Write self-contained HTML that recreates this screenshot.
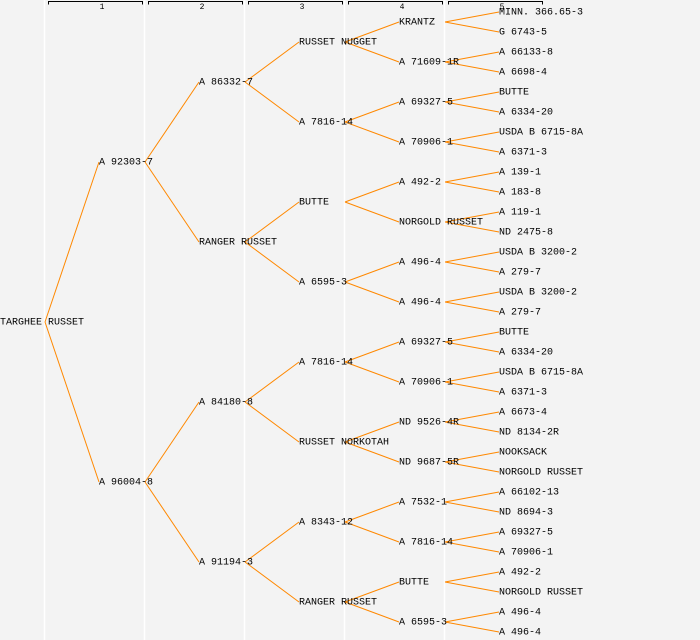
<!DOCTYPE html>
<html><head><meta charset="utf-8"><style>
html,body{margin:0;padding:0;background:#f3f3f3}
svg{display:block}
text{font-family:"Liberation Mono","DejaVu Sans Mono",monospace;font-size:10px;fill:#000;dominant-baseline:middle}
.h{font-size:8px;text-anchor:middle}
</style></head><body>
<svg width="700" height="640" xmlns="http://www.w3.org/2000/svg">
<rect width="700" height="640" fill="#f3f3f3"/>
<g stroke="#fff" stroke-width="1.5">
<line x1="44.5" y1="0" x2="44.5" y2="640"/><line x1="144.5" y1="0" x2="144.5" y2="640"/>
<line x1="244.5" y1="0" x2="244.5" y2="640"/><line x1="344.5" y1="0" x2="344.5" y2="640"/>
<line x1="444.5" y1="0" x2="444.5" y2="640"/>
</g>
<g stroke="#000" stroke-width="1" fill="none">
<path d="M48.5 4.5V1.5H142.5V4.5"/><path d="M148.5 4.5V1.5H242.5V4.5"/><path d="M248.5 4.5V1.5H342.5V4.5"/>
<path d="M348.5 4.5V1.5H442.5V4.5"/><path d="M448.5 4.5V1.5H542.5V4.5"/>
</g>
<text class="h" x="102" y="7">1</text><text class="h" x="202" y="7">2</text><text class="h" x="302" y="7">3</text><text class="h" x="402" y="7">4</text><text class="h" x="502" y="7">5</text>
<g stroke="#ff8800" stroke-width="1">
<line x1="45" y1="322" x2="99" y2="162"/><line x1="45" y1="322" x2="99" y2="482"/>
<line x1="145" y1="162" x2="199" y2="82"/><line x1="145" y1="162" x2="199" y2="242"/>
<line x1="145" y1="482" x2="199" y2="402"/><line x1="145" y1="482" x2="199" y2="562"/>
<line x1="245" y1="82" x2="299" y2="42"/><line x1="245" y1="82" x2="299" y2="122"/>
<line x1="245" y1="242" x2="299" y2="202"/><line x1="245" y1="242" x2="299" y2="282"/>
<line x1="245" y1="402" x2="299" y2="362"/><line x1="245" y1="402" x2="299" y2="442"/>
<line x1="245" y1="562" x2="299" y2="522"/><line x1="245" y1="562" x2="299" y2="602"/>
<line x1="345" y1="42" x2="399" y2="22"/><line x1="345" y1="42" x2="399" y2="62"/>
<line x1="345" y1="122" x2="399" y2="102"/><line x1="345" y1="122" x2="399" y2="142"/>
<line x1="345" y1="202" x2="399" y2="182"/><line x1="345" y1="202" x2="399" y2="222"/>
<line x1="345" y1="282" x2="399" y2="262"/><line x1="345" y1="282" x2="399" y2="302"/>
<line x1="345" y1="362" x2="399" y2="342"/><line x1="345" y1="362" x2="399" y2="382"/>
<line x1="345" y1="442" x2="399" y2="422"/><line x1="345" y1="442" x2="399" y2="462"/>
<line x1="345" y1="522" x2="399" y2="502"/><line x1="345" y1="522" x2="399" y2="542"/>
<line x1="345" y1="602" x2="399" y2="582"/><line x1="345" y1="602" x2="399" y2="622"/>
<line x1="445" y1="22" x2="499" y2="12"/><line x1="445" y1="22" x2="499" y2="32"/>
<line x1="445" y1="62" x2="499" y2="52"/><line x1="445" y1="62" x2="499" y2="72"/>
<line x1="445" y1="102" x2="499" y2="92"/><line x1="445" y1="102" x2="499" y2="112"/>
<line x1="445" y1="142" x2="499" y2="132"/><line x1="445" y1="142" x2="499" y2="152"/>
<line x1="445" y1="182" x2="499" y2="172"/><line x1="445" y1="182" x2="499" y2="192"/>
<line x1="445" y1="222" x2="499" y2="212"/><line x1="445" y1="222" x2="499" y2="232"/>
<line x1="445" y1="262" x2="499" y2="252"/><line x1="445" y1="262" x2="499" y2="272"/>
<line x1="445" y1="302" x2="499" y2="292"/><line x1="445" y1="302" x2="499" y2="312"/>
<line x1="445" y1="342" x2="499" y2="332"/><line x1="445" y1="342" x2="499" y2="352"/>
<line x1="445" y1="382" x2="499" y2="372"/><line x1="445" y1="382" x2="499" y2="392"/>
<line x1="445" y1="422" x2="499" y2="412"/><line x1="445" y1="422" x2="499" y2="432"/>
<line x1="445" y1="462" x2="499" y2="452"/><line x1="445" y1="462" x2="499" y2="472"/>
<line x1="445" y1="502" x2="499" y2="492"/><line x1="445" y1="502" x2="499" y2="512"/>
<line x1="445" y1="542" x2="499" y2="532"/><line x1="445" y1="542" x2="499" y2="552"/>
<line x1="445" y1="582" x2="499" y2="572"/><line x1="445" y1="582" x2="499" y2="592"/>
<line x1="445" y1="622" x2="499" y2="612"/><line x1="445" y1="622" x2="499" y2="632"/>
</g>
<text x="0" y="322">TARGHEE RUSSET</text>
<text x="99" y="162">A 92303-7</text><text x="99" y="482">A 96004-8</text>
<text x="199" y="82">A 86332-7</text><text x="199" y="242">RANGER RUSSET</text>
<text x="199" y="402">A 84180-8</text><text x="199" y="562">A 91194-3</text>
<text x="299" y="42">RUSSET NUGGET</text><text x="299" y="122">A 7816-14</text>
<text x="299" y="202">BUTTE</text><text x="299" y="282">A 6595-3</text>
<text x="299" y="362">A 7816-14</text><text x="299" y="442">RUSSET NORKOTAH</text>
<text x="299" y="522">A 8343-12</text><text x="299" y="602">RANGER RUSSET</text>
<text x="399" y="22">KRANTZ</text><text x="399" y="62">A 71609-1R</text>
<text x="399" y="102">A 69327-5</text><text x="399" y="142">A 70906-1</text>
<text x="399" y="182">A 492-2</text><text x="399" y="222">NORGOLD RUSSET</text>
<text x="399" y="262">A 496-4</text><text x="399" y="302">A 496-4</text>
<text x="399" y="342">A 69327-5</text><text x="399" y="382">A 70906-1</text>
<text x="399" y="422">ND 9526-4R</text><text x="399" y="462">ND 9687-5R</text>
<text x="399" y="502">A 7532-1</text><text x="399" y="542">A 7816-14</text>
<text x="399" y="582">BUTTE</text><text x="399" y="622">A 6595-3</text>
<text x="499" y="12">MINN. 366.65-3</text><text x="499" y="32">G 6743-5</text>
<text x="499" y="52">A 66133-8</text><text x="499" y="72">A 6698-4</text>
<text x="499" y="92">BUTTE</text><text x="499" y="112">A 6334-20</text>
<text x="499" y="132">USDA B 6715-8A</text><text x="499" y="152">A 6371-3</text>
<text x="499" y="172">A 139-1</text><text x="499" y="192">A 183-8</text>
<text x="499" y="212">A 119-1</text><text x="499" y="232">ND 2475-8</text>
<text x="499" y="252">USDA B 3200-2</text><text x="499" y="272">A 279-7</text>
<text x="499" y="292">USDA B 3200-2</text><text x="499" y="312">A 279-7</text>
<text x="499" y="332">BUTTE</text><text x="499" y="352">A 6334-20</text>
<text x="499" y="372">USDA B 6715-8A</text><text x="499" y="392">A 6371-3</text>
<text x="499" y="412">A 6673-4</text><text x="499" y="432">ND 8134-2R</text>
<text x="499" y="452">NOOKSACK</text><text x="499" y="472">NORGOLD RUSSET</text>
<text x="499" y="492">A 66102-13</text><text x="499" y="512">ND 8694-3</text>
<text x="499" y="532">A 69327-5</text><text x="499" y="552">A 70906-1</text>
<text x="499" y="572">A 492-2</text><text x="499" y="592">NORGOLD RUSSET</text>
<text x="499" y="612">A 496-4</text><text x="499" y="632">A 496-4</text>
</svg>
</body></html>
